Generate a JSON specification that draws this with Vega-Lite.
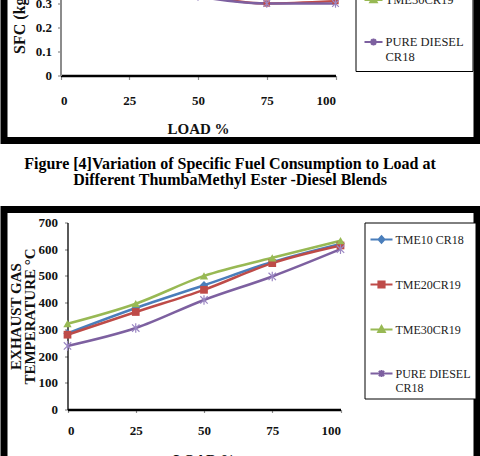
{
  "$schema": "https://vega.github.io/schema/vega-lite/v6.json",
  "background": "white",
  "padding": {"top": -133.5, "left": 0, "right": 0, "bottom": -26.5},
  "spacing": 0,
  "bounds": "flush",
  "resolve": {
    "scale": {"color": "independent"},
    "legend": {"color": "independent"}
  },
  "config": {
    "view": {"stroke": null},
    "font": "Liberation Serif",
    "axis": {
      "grid": false,
      "zindex": 1,
      "labelFont": "Liberation Serif",
      "labelFontWeight": "bold",
      "labelFontSize": 13,
      "labelColor": "#111111",
      "titleFont": "Liberation Serif",
      "titleFontWeight": "bold",
      "titleFontSize": 15,
      "titleColor": "#111111",
      "tickColor": "#8c8c8c",
      "tickSize": 3,
      "tickWidth": 1.2,
      "domainColor": "black"
    },
    "legend": {
      "labelFont": "Liberation Serif",
      "labelFontWeight": "normal",
      "labelColor": "#222222",
      "strokeColor": "black",
      "fillColor": "white",
      "labelLimit": 300
    },
    "point": {"filled": true, "opacity": 1, "strokeWidth": 1.2}
  },
  "datasets": {
    "sfc": [
      {"load": 0, "fuel": "TME10 CR18", "sfc": 0.58},
      {"load": 25, "fuel": "TME10 CR18", "sfc": 0.45},
      {"load": 50, "fuel": "TME10 CR18", "sfc": 0.37},
      {"load": 75, "fuel": "TME10 CR18", "sfc": 0.33},
      {"load": 100, "fuel": "TME10 CR18", "sfc": 0.33},
      {"load": 0, "fuel": "TME20CR19", "sfc": 0.55},
      {"load": 25, "fuel": "TME20CR19", "sfc": 0.43},
      {"load": 50, "fuel": "TME20CR19", "sfc": 0.34},
      {"load": 75, "fuel": "TME20CR19", "sfc": 0.30},
      {"load": 100, "fuel": "TME20CR19", "sfc": 0.31},
      {"load": 0, "fuel": "TME30CR19", "sfc": 0.57},
      {"load": 25, "fuel": "TME30CR19", "sfc": 0.46},
      {"load": 50, "fuel": "TME30CR19", "sfc": 0.38},
      {"load": 75, "fuel": "TME30CR19", "sfc": 0.34},
      {"load": 100, "fuel": "TME30CR19", "sfc": 0.34},
      {"load": 0, "fuel": "PURE DIESEL CR18", "sfc": 0.52},
      {"load": 25, "fuel": "PURE DIESEL CR18", "sfc": 0.40},
      {"load": 50, "fuel": "PURE DIESEL CR18", "sfc": 0.33},
      {"load": 75, "fuel": "PURE DIESEL CR18", "sfc": 0.30},
      {"load": 100, "fuel": "PURE DIESEL CR18", "sfc": 0.30}
    ],
    "egt": [
      {"load": 0, "fuel": "TME10 CR18", "egt": 285},
      {"load": 25, "fuel": "TME10 CR18", "egt": 380},
      {"load": 50, "fuel": "TME10 CR18", "egt": 465},
      {"load": 75, "fuel": "TME10 CR18", "egt": 552},
      {"load": 100, "fuel": "TME10 CR18", "egt": 620},
      {"load": 0, "fuel": "TME20CR19", "egt": 280},
      {"load": 25, "fuel": "TME20CR19", "egt": 365},
      {"load": 50, "fuel": "TME20CR19", "egt": 448},
      {"load": 75, "fuel": "TME20CR19", "egt": 548},
      {"load": 100, "fuel": "TME20CR19", "egt": 614},
      {"load": 0, "fuel": "TME30CR19", "egt": 321},
      {"load": 25, "fuel": "TME30CR19", "egt": 396},
      {"load": 50, "fuel": "TME30CR19", "egt": 500},
      {"load": 75, "fuel": "TME30CR19", "egt": 568},
      {"load": 100, "fuel": "TME30CR19", "egt": 632},
      {"load": 0, "fuel": "PURE DIESEL CR18", "egt": 238},
      {"load": 25, "fuel": "PURE DIESEL CR18", "egt": 305},
      {"load": 50, "fuel": "PURE DIESEL CR18", "egt": 410},
      {"load": 75, "fuel": "PURE DIESEL CR18", "egt": 498},
      {"load": 100, "fuel": "PURE DIESEL CR18", "egt": 600}
    ]
  },
  "vconcat": [
    {
      "width": 473,
      "height": 270,
      "view": {"stroke": "black", "strokeWidth": 7, "fill": "white"},
      "encoding": {
        "x": {
          "field": "load", "type": "quantitative",
          "scale": {"domain": [0, 100], "range": [56.5, 331.5], "nice": false, "zero": false},
          "axis": {"orient": "bottom", "offset": -65, "values": [0, 25, 50, 75, 100], "domainWidth": 2.5, "tickSize": 4, "labelPadding": 15, "title": "LOAD %", "titlePadding": 14}
        },
        "y": {
          "field": "sfc", "type": "quantitative",
          "scale": {"domain": [0, 0.6], "range": [205, 61], "nice": false, "zero": false},
          "axis": {"orient": "left", "offset": -56.5, "values": [0, 0.1, 0.2, 0.3, 0.4, 0.5, 0.6], "format": "~g", "domainColor": "#8c8c8c", "domainWidth": 2, "labelPadding": 6, "title": "SFC (kg/kWh)", "titleFontSize": 16, "titlePadding": 8}
        }
      },
      "layer": [
        {
          "data": {"values": [{}]},
          "mark": {"type": "rect", "filled": false, "stroke": "black", "strokeWidth": 1.2},
          "encoding": {
            "x": {"datum": 0, "type": "quantitative"},
            "x2": {"datum": 100},
            "y": {"datum": 0, "type": "quantitative"},
            "y2": {"datum": 0.6}
          }
        },
        {
          "data": {"name": "sfc"},
          "mark": {"type": "line", "interpolate": "monotone", "strokeWidth": 2.5},
          "encoding": {
            "color": {
              "field": "fuel", "type": "nominal",
              "scale": {"domain": ["TME10 CR18", "TME20CR19", "TME30CR19", "PURE DIESEL CR18"], "range": ["#4A7EBB", "#BE4B48", "#98B954", "#7D60A0"]},
              "legend": {
                "title": null, "orient": "none", "legendX": 351.5, "legendY": 26.5,
                "symbolSize": 324, "symbolStrokeWidth": 2, "labelFontSize": 12.5, "labelOffset": 2,
                "padding": 8, "rowPadding": 25, "labelBaseline": "middle",
                "labelExpr": "datum.label === 'PURE DIESEL CR18' ? ['PURE DIESEL', 'CR18'] : datum.label",
                "encode": {
                  "symbols": {"update": {
                    "shape": {"signal": "datum.value === 'TME10 CR18' ? 'M-1,0H1M0,-0.34L0.32,0L0,0.34L-0.32,0Z' : datum.value === 'TME20CR19' ? 'M-1,0H1M-0.32,-0.32H0.32V0.32H-0.32Z' : datum.value === 'TME30CR19' ? 'M-1,0H1M0,-0.38L0.36,0.26H-0.36Z' : 'M-1,0H1M-0.28,-0.28L0.28,0.28M-0.28,0.28L0.28,-0.28M0,-0.38V0.38'"},
                    "fill": {"signal": "datum.value === 'TME10 CR18' ? '#4A7EBB' : datum.value === 'TME20CR19' ? '#BE4B48' : datum.value === 'TME30CR19' ? '#98B954' : 'transparent'"},
                    "stroke": {"signal": "datum.value === 'TME10 CR18' ? '#4A7EBB' : datum.value === 'TME20CR19' ? '#BE4B48' : datum.value === 'TME30CR19' ? '#98B954' : '#7D60A0'"},
                    "opacity": {"value": 1}
                  }}
                }
              }
            }
          }
        },
        {
          "data": {"name": "sfc"},
          "transform": [{"filter": "datum.fuel === 'TME10 CR18'"}],
          "mark": {"type": "point", "shape": "diamond", "size": 45, "color": "#4A7EBB"}
        },
        {
          "data": {"name": "sfc"},
          "transform": [{"filter": "datum.fuel === 'TME20CR19'"}],
          "mark": {"type": "point", "shape": "square", "size": 40, "color": "#BE4B48"}
        },
        {
          "data": {"name": "sfc"},
          "transform": [{"filter": "datum.fuel === 'TME30CR19'"}],
          "mark": {"type": "point", "shape": "triangle-up", "size": 45, "color": "#98B954"}
        },
        {
          "data": {"name": "sfc"},
          "transform": [{"filter": "datum.fuel === 'PURE DIESEL CR18'"}],
          "mark": {"type": "point", "shape": "M-1,-1L1,1M-1,1L1,-1M0,-1.3V1.3", "filled": false, "size": 45, "color": "#9A86C2", "strokeWidth": 1.2}
        }
      ]
    },
    {
      "width": 452,
      "height": 69,
      "data": {"values": [{"caption": "Figure [4]Variation of Specific Fuel Consumption to Load at\nDifferent ThumbaMethyl Ester -Diesel Blends"}]},
      "mark": {"type": "text", "lineBreak": "\n", "font": "Liberation Serif", "fontWeight": "bold", "fontSize": 16, "lineHeight": 15.5, "align": "center", "baseline": "middle", "dy": -11, "color": "black"},
      "encoding": {"text": {"field": "caption"}}
    },
    {
      "width": 473,
      "height": 270,
      "view": {"stroke": "black", "strokeWidth": 7, "fill": "white"},
      "encoding": {
        "x": {
          "field": "load", "type": "quantitative",
          "scale": {"domain": [0, 100], "range": [63.5, 336.5], "nice": false, "zero": false},
          "axis": {"orient": "bottom", "offset": -70, "values": [0, 25, 50, 75, 100], "domainWidth": 2.5, "tickSize": 3, "labelPadding": 12, "title": "LOAD %", "titlePadding": 15}
        },
        "y": {
          "field": "egt", "type": "quantitative",
          "scale": {"domain": [0, 700], "range": [200, 13], "nice": false, "zero": false},
          "axis": {"orient": "left", "offset": -63.5, "values": [0, 100, 200, 300, 400, 500, 600, 700], "domainWidth": 1.3, "labelPadding": 7, "title": ["EXHAUST GAS", "TEMPERATURE °C"], "titleLineHeight": 14, "titlePadding": 1}
        }
      },
      "layer": [
        {
          "data": {"values": [{}]},
          "mark": {"type": "rect", "filled": false, "stroke": "black", "strokeWidth": 1.3},
          "encoding": {
            "x": {"datum": 0, "type": "quantitative"},
            "x2": {"datum": 100},
            "y": {"datum": 0, "type": "quantitative"},
            "y2": {"datum": 700}
          }
        },
        {
          "data": {"name": "egt"},
          "mark": {"type": "line", "interpolate": "monotone", "strokeWidth": 2.5},
          "encoding": {
            "color": {
              "field": "fuel", "type": "nominal",
              "scale": {"domain": ["TME10 CR18", "TME20CR19", "TME30CR19", "PURE DIESEL CR18"], "range": ["#4A7EBB", "#BE4B48", "#98B954", "#7D60A0"]},
              "legend": {
                "title": null, "orient": "none", "legendX": 360.5, "legendY": 13,
                "symbolSize": 484, "symbolStrokeWidth": 2, "labelFontSize": 12, "labelOffset": 2,
                "padding": 5, "rowPadding": 25, "labelBaseline": "middle",
                "labelExpr": "datum.label === 'PURE DIESEL CR18' ? ['PURE DIESEL', 'CR18'] : datum.label",
                "encode": {
                  "symbols": {"update": {
                    "shape": {"signal": "datum.value === 'TME10 CR18' ? 'M-1,0H1M0,-0.3L0.27,0L0,0.3L-0.27,0Z' : datum.value === 'TME20CR19' ? 'M-1,0H1M-0.28,-0.28H0.28V0.28H-0.28Z' : datum.value === 'TME30CR19' ? 'M-1,0H1M0,-0.32L0.3,0.22H-0.3Z' : 'M-1,0H1M-0.24,-0.24L0.24,0.24M-0.24,0.24L0.24,-0.24M0,-0.32V0.32'"},
                    "fill": {"signal": "datum.value === 'TME10 CR18' ? '#4A7EBB' : datum.value === 'TME20CR19' ? '#BE4B48' : datum.value === 'TME30CR19' ? '#98B954' : 'transparent'"},
                    "stroke": {"signal": "datum.value === 'TME10 CR18' ? '#4A7EBB' : datum.value === 'TME20CR19' ? '#BE4B48' : datum.value === 'TME30CR19' ? '#98B954' : '#7D60A0'"},
                    "opacity": {"value": 1}
                  }}
                }
              }
            }
          }
        },
        {
          "data": {"name": "egt"},
          "transform": [{"filter": "datum.fuel === 'TME10 CR18'"}],
          "mark": {"type": "point", "shape": "diamond", "size": 70, "color": "#4A7EBB"}
        },
        {
          "data": {"name": "egt"},
          "transform": [{"filter": "datum.fuel === 'TME20CR19'"}],
          "mark": {"type": "point", "shape": "square", "size": 60, "color": "#BE4B48"}
        },
        {
          "data": {"name": "egt"},
          "transform": [{"filter": "datum.fuel === 'TME30CR19'"}],
          "mark": {"type": "point", "shape": "triangle-up", "size": 70, "color": "#98B954"}
        },
        {
          "data": {"name": "egt"},
          "transform": [{"filter": "datum.fuel === 'PURE DIESEL CR18'"}],
          "mark": {"type": "point", "shape": "M-1,-1L1,1M-1,1L1,-1M0,-1.3V1.3", "filled": false, "size": 55, "color": "#9A86C2", "strokeWidth": 1.2}
        }
      ]
    }
  ]
}
